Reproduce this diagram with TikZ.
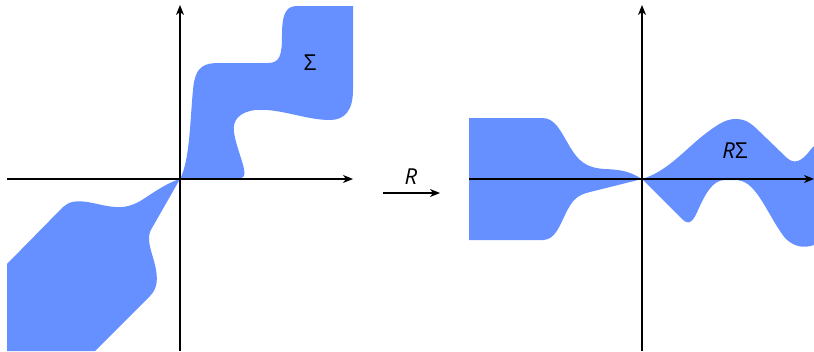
\documentclass[tikz,border=0pt]{standalone}
\usepackage{fontspec}
\setmainfont{Open Sans}
\usetikzlibrary{arrows.meta}
\definecolor{regblue}{RGB}{102,144,255}
\begin{document}
\begin{tikzpicture}[x=1pt,y=-1pt,
  region/.style={fill=regblue,draw=none},
  axis/.style={line width=1.2pt,-{Stealth[length=10pt,width=8pt,inset=3pt]}},
  lbl/.style={font=\fontsize{22}{26}\selectfont,inner sep=0pt}]
\useasboundingbox (0,0) rectangle (814,351);
% left panel regions
\fill[region] (180,179) .. controls (190,160) and (190,120) .. (193,90) .. controls (195,65) and (205,63) .. (220,63) -- (268,63) .. controls (280,63) and (282,55) .. (282,35) .. controls (282,10) and (288,6) .. (298,6) -- (353,6) -- (353,90) .. controls (353,110) and (345,120) .. (330,120) .. controls (305,120) and (280,108) .. (255,110) .. controls (240,112) and (232,120) .. (234,132) .. controls (236,148) and (247,170) .. (244,176) .. controls (243,178) and (240,179) .. (238,179) -- cycle;
\fill[region] (180,179) .. controls (170,182) and (160,188) .. (145,198) .. controls (135,205) and (125,208) .. (115,207) .. controls (100,206) and (85,199) .. (72,202) .. controls (68,203) and (66,205) .. (63,207) -- (7,264) -- (7,351) -- (95,351) -- (150,296) .. controls (158,288) and (158,278) .. (155,265) .. controls (152,252) and (145,238) .. (152,228) -- cycle;
% right panel regions
\fill[region] (642,179) .. controls (630,172) and (625,170) .. (605,169) .. controls (585,168) and (578,160) .. (570,147) .. controls (560,130) and (555,118) .. (542,118) -- (469,118) -- (469,240) -- (543,240) .. controls (555,240) and (560,225) .. (565,215) .. controls (572,200) and (577,195) .. (590,192) -- cycle;
\fill[region] (642,179) .. controls (665,172) and (680,155) .. (700,138) .. controls (715,126) and (725,119) .. (735,119) .. controls (745,119) and (750,122) .. (760,132) -- (787,158) .. controls (795,165) and (802,160) .. (808,153) .. controls (810,150) and (812,148) .. (814,146) -- (814,245) .. controls (805,248) and (795,248) .. (785,238) .. controls (775,225) and (768,210) .. (760,198) .. controls (752,186) and (745,180) .. (735,180) -- (725,180) .. controls (712,180) and (705,195) .. (698,210) .. controls (694,220) and (690,224) .. (686,222) .. controls (684,221) and (683,220) .. (680,217) -- cycle;
% axes
\coordinate (lxs) at (7,179);
\coordinate (lxe) at (353,179);
\coordinate (lys) at (180,351);
\coordinate (lye) at (180,5);
\coordinate (rxs) at (469,179);
\coordinate (rxe) at (814,179);
\coordinate (rys) at (642,351);
\coordinate (rye) at (642,5);
\draw[axis] (lxs) -- (lxe);
\draw[axis] (lys) -- (lye);
\draw[axis] (rxs) -- (rxe);
\draw[axis] (rys) -- (rye);
% map arrow
\coordinate (ms) at (383,193);
\coordinate (me) at (440,193);
\draw[axis] (ms) -- (me);
\node[lbl] (rl) at (411,177) {\textit{R}};
\node[lbl] (sig) at (310,63) {Σ};
\node[lbl] (rsig) at (735,151) {\textit{R}Σ};
\end{tikzpicture}
\end{document}
